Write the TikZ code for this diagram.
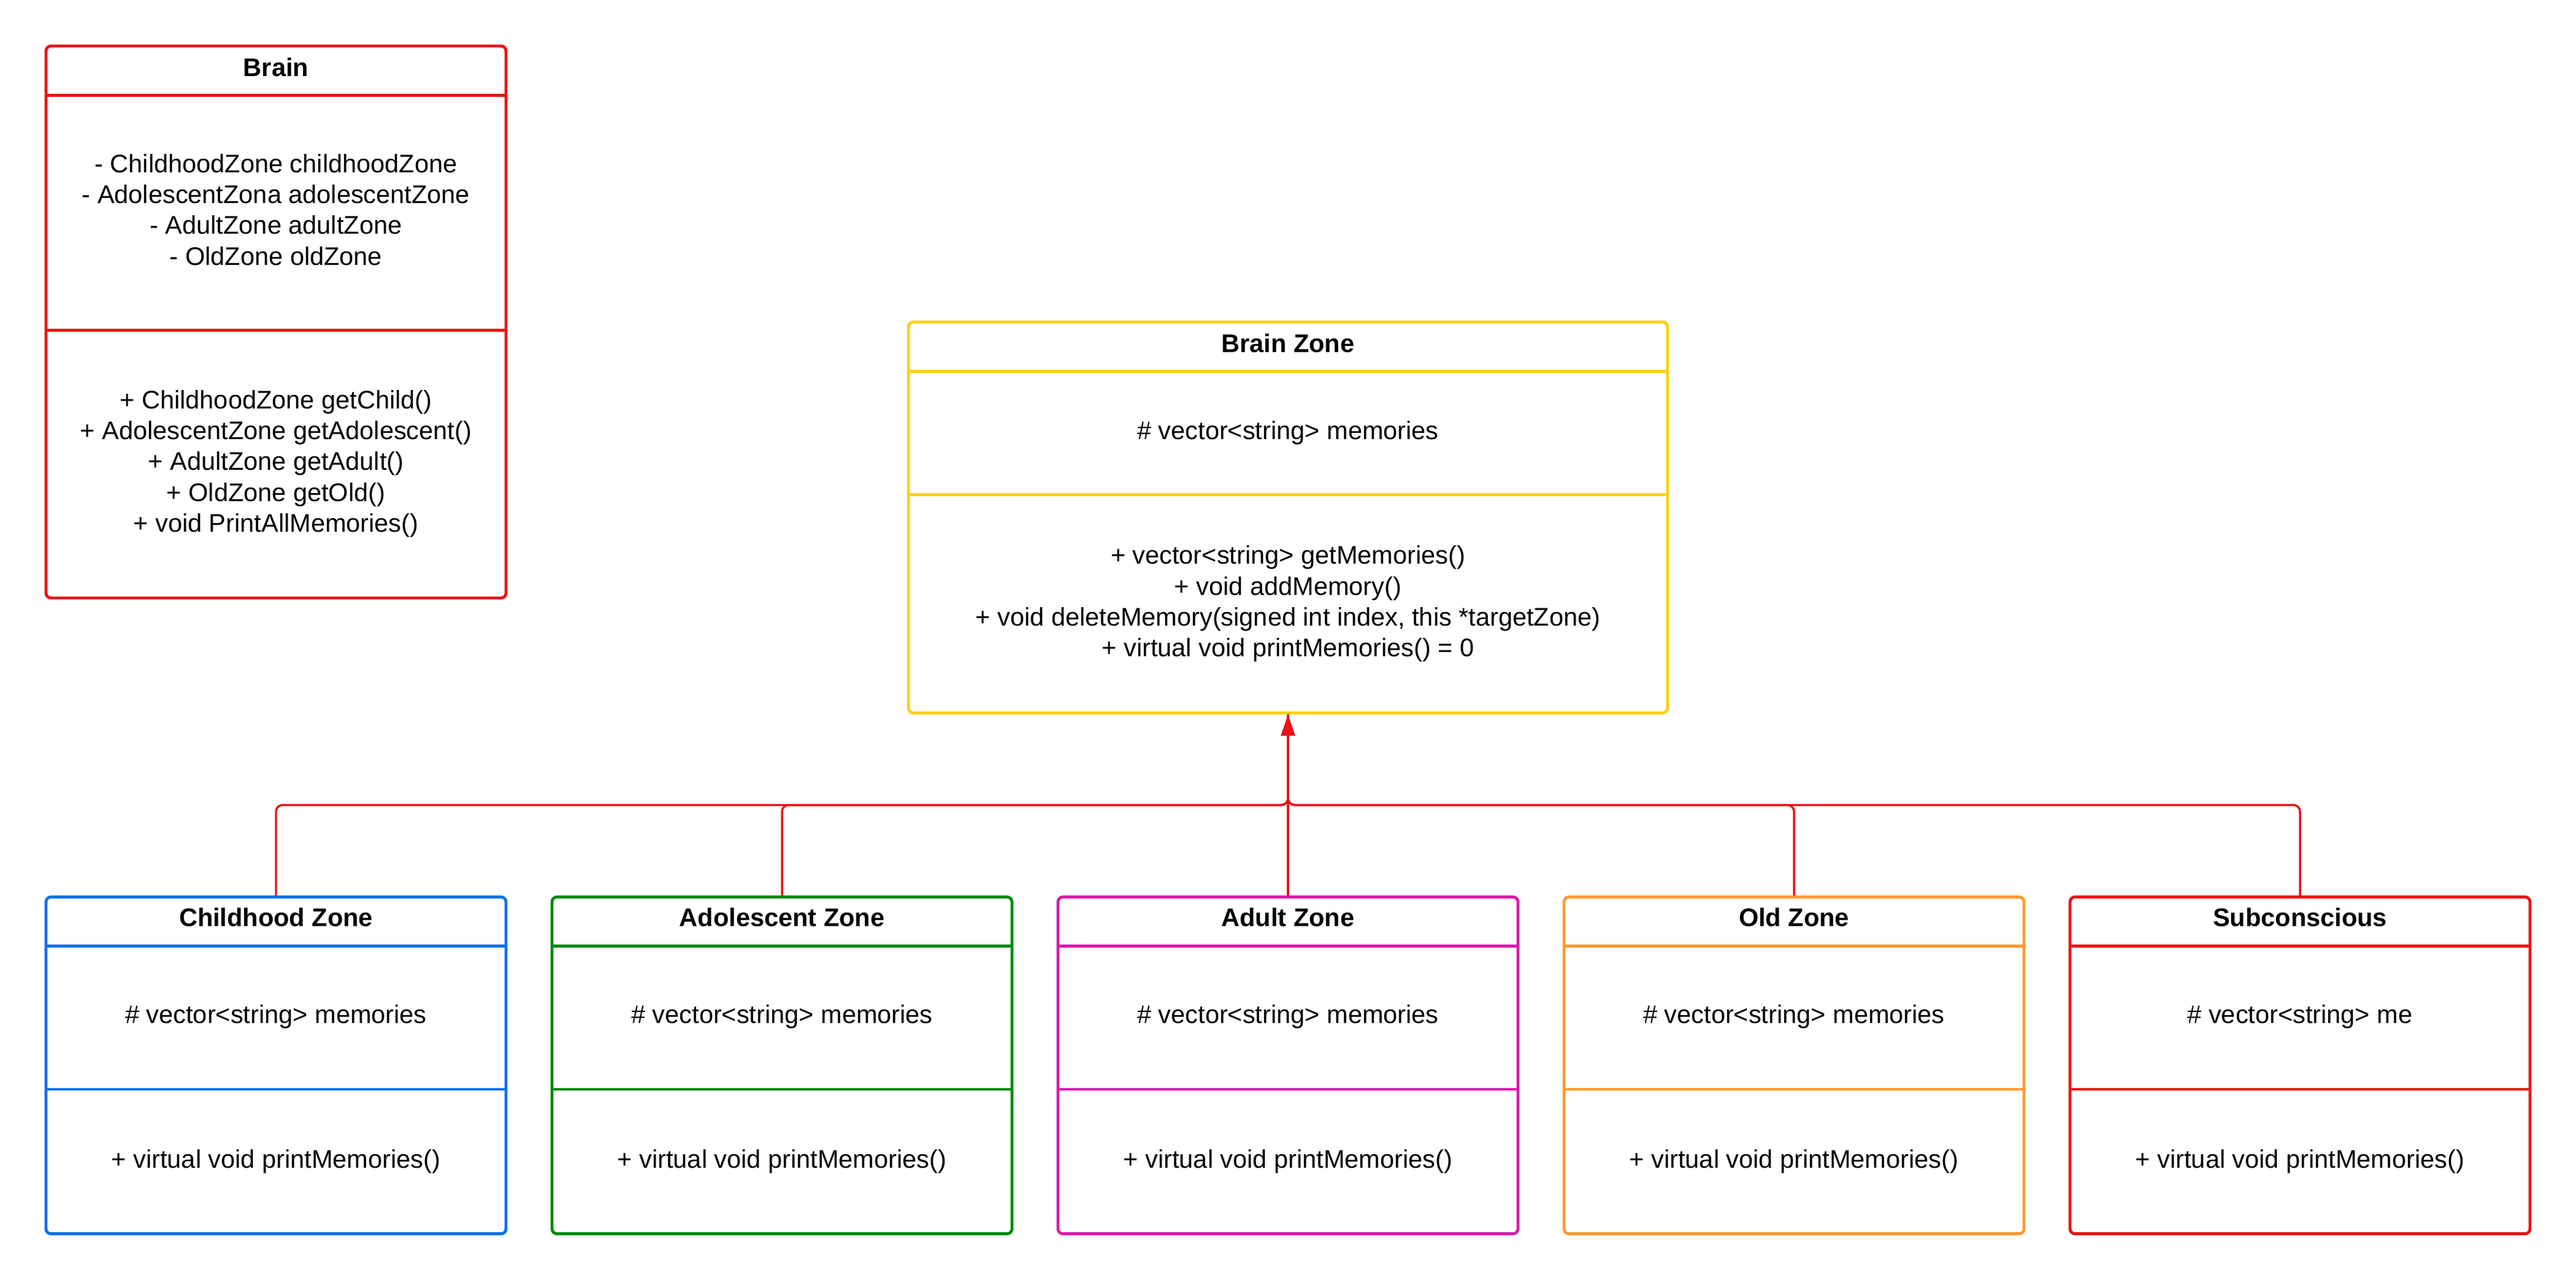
\documentclass[tikz,border=0pt]{standalone}
\usepackage{fontspec}
\setmainfont{Liberation Sans}
\usetikzlibrary{arrows.meta}
\definecolor{cred}{HTML}{E81416}
\definecolor{cyellow}{HTML}{FFCE1A}
\definecolor{cblue}{HTML}{1071E5}
\definecolor{cgreen}{HTML}{008A0E}
\definecolor{cmag}{HTML}{D91BAA}
\definecolor{corange}{HTML}{FF9A33}
\tikzset{
  classbox/.style={draw, line width=1.8pt, rounded corners=3pt, fill=white, inner sep=0pt},
  divline/.style={line width=1.8pt},
  txt/.style={inner sep=0pt, align=center, font=\fontsize{15.5}{18.7}\selectfont},
  ttl/.style={inner sep=0pt, align=center, font=\fontsize{15.5}{18.7}\selectfont\bfseries},
  conn/.style={draw=cred, line width=1.3pt, rounded corners=4pt},
}
\begin{document}
\begin{tikzpicture}[x=1pt,y=-1pt]
\useasboundingbox[fill=white] (0,0) rectangle (1568,779);
% Brain
\node[classbox, draw=cred, minimum width=280pt, minimum height=336pt] (brain) at (168,196) {};
\draw[divline, cred] (28,58) -- (308,58);
\draw[divline, cred] (28,201) -- (308,201);
\node[ttl] (brainT) at (168,41) {Brain};
\node[txt] (brainA) at (168,127.7) {- ChildhoodZone childhoodZone\\- AdolescentZona adolescentZone\\- AdultZone adultZone\\- OldZone oldZone};
\node[txt] (brainM) at (168,282.3) {+ ChildhoodZone getChild()\\+ AdolescentZone getAdolescent()\\+ AdultZone getAdult()\\+ OldZone getOld()\\+ void PrintAllMemories()};
% Brain Zone
\node[classbox, draw=cyellow, minimum width=462pt, minimum height=238pt] (bz) at (784,315) {};
\draw[divline, cyellow] (553,226) -- (1015,226);
\draw[divline, cyellow] (553,301) -- (1015,301);
\node[ttl] (bzT) at (784,209) {Brain Zone};
\node[txt] (bzA) at (784,263.5) {\# vector<string> memories};
\node[txt] (bzM) at (784,367.5) {+ vector<string> getMemories()\\+ void addMemory()\\+ void deleteMemory(signed int index, this *targetZone)\\+ virtual void printMemories() = 0};
% bottom classes
\foreach \nm/\cx/\col/\title/\attr in {
  child/168/cblue/Childhood Zone/\# vector<string> memories,
  adol/476/cgreen/Adolescent Zone/\# vector<string> memories,
  adult/784/cmag/Adult Zone/\# vector<string> memories,
  old/1092/corange/Old Zone/\# vector<string> memories,
  sub/1400/cred/Subconscious/\# vector<string> me}{
  \node[classbox, draw=\col, minimum width=280pt, minimum height=205pt] (\nm) at (\cx,648.5) {};
  \draw[divline, \col] (\cx-140,576) -- (\cx+140,576);
  \draw[divline, \col] (\cx-140,663) -- (\cx+140,663);
  \node[ttl] (\nm T) at (\cx,558.5) {\title};
  \node[txt] (\nm A) at (\cx,619) {\attr};
  \node[txt] (\nm M) at (\cx,707) {+ virtual void printMemories()};
}
% connectors
\coordinate (hub) at (784,490);
\foreach \nm in {child,adol,old,sub}{
  \draw[conn] (\nm.north) |- (hub) -- (bz.south);
}
\draw[conn, -{Triangle[length=13pt,width=8.5pt]}] (adult.north) -- (bz.south);
\end{tikzpicture}
\end{document}
